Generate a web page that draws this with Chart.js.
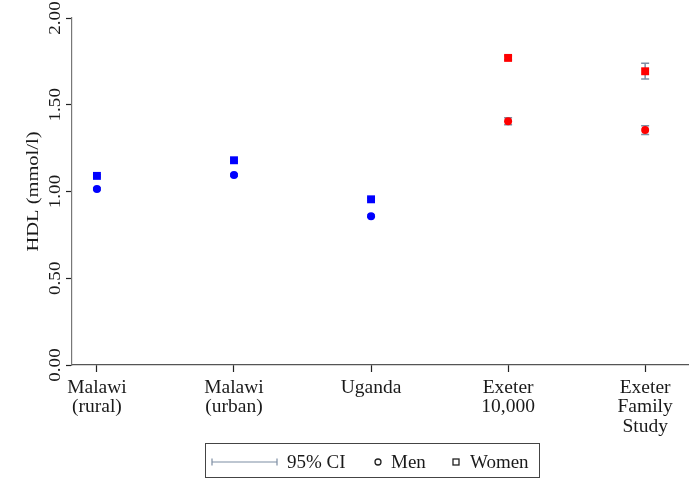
<!DOCTYPE html>
<html>
<head>
<meta charset="utf-8">
<script src="https://cdn.jsdelivr.net/npm/chart.js@4"></script>
<style>
html,body{margin:0;padding:0;background:#fff;}
canvas{display:block;}
</style>
</head>
<body>
<canvas id="c" width="689" height="502"></canvas>
<script>
const categories = [["Malawi","(rural)"],["Malawi","(urban)"],["Uganda"],["Exeter","10,000"],["Exeter","Family","Study"]];
const menValues   = [1.015, 1.095, 0.858, 1.405, 1.355];
const menLow      = [1.008, 1.088, 0.851, 1.385, 1.329];
const menHigh     = [1.022, 1.102, 0.865, 1.425, 1.379];
const womenValues = [1.090, 1.180, 0.955, 1.770, 1.693];
const womenLow    = [1.083, 1.173, 0.948, 1.758, 1.648];
const womenHigh   = [1.097, 1.187, 0.962, 1.782, 1.739];
const groupColors = ["#0000ff","#0000ff","#0000ff","#ff0000","#ff0000"];
const yTicks = [0, 0.5, 1.0, 1.5, 2.0];
const yTitle = "HDL (mmol/l)";
const legendLabels = ["95% CI","Men","Women"];

const FONT = "Liberation Serif";
const TXT = "#1a1a1a";
const CI_COLOR = "#7d8ea3";

const ciPlugin = {
  id: "ci",
  beforeDatasetsDraw(chart) {
    const ctx = chart.ctx, xs = chart.scales.x, ys = chart.scales.y;
    ctx.save();
    ctx.strokeStyle = CI_COLOR;
    ctx.lineWidth = 1.5;
    const drawCI = (i, lo, hi) => {
      const x = xs.getPixelForValue(i);
      const y1 = ys.getPixelForValue(lo), y2 = ys.getPixelForValue(hi);
      ctx.beginPath();
      ctx.moveTo(x, y1); ctx.lineTo(x, y2);
      ctx.moveTo(x - 4, y1); ctx.lineTo(x + 4, y1);
      ctx.moveTo(x - 4, y2); ctx.lineTo(x + 4, y2);
      ctx.stroke();
    };
    categories.forEach((c, i) => {
      drawCI(i, menLow[i], menHigh[i]);
      drawCI(i, womenLow[i], womenHigh[i]);
    });
    ctx.restore();
  },
  afterDraw(chart) {
    const ctx = chart.ctx, ys = chart.scales.y, area = chart.chartArea;
    ctx.save();
    ctx.fillStyle = TXT;
    // y tick labels (rotated)
    ctx.font = "17px '" + FONT + "'";
    yTicks.forEach(v => {
      const y = ys.getPixelForValue(v);
      ctx.save();
      ctx.translate(60, y);
      ctx.rotate(-Math.PI / 2);
      ctx.scale(1.12, 1);
      ctx.textAlign = "center";
      ctx.textBaseline = "alphabetic";
      ctx.fillText(v.toFixed(2), 0, 0);
      ctx.restore();
    });
    // y title
    ctx.font = "17.5px '" + FONT + "'";
    ctx.save();
    ctx.translate(38, (area.top + area.bottom) / 2);
    ctx.rotate(-Math.PI / 2);
    ctx.scale(1.17, 1);
    ctx.textAlign = "center";
    ctx.textBaseline = "alphabetic";
    ctx.fillText(yTitle, 0, 0);
    ctx.restore();

    // legend
    ctx.font = "19px '" + FONT + "'";
    const bx = 205, by = 443, bw = 334, bh = 34;
    ctx.strokeStyle = "#444";
    ctx.lineWidth = 1;
    ctx.strokeRect(bx + 0.5, by + 0.5, bw, bh);
    const ly = 462;
    ctx.strokeStyle = CI_COLOR;
    ctx.lineWidth = 1.2;
    ctx.beginPath();
    ctx.moveTo(212, ly); ctx.lineTo(277, ly);
    ctx.moveTo(212, ly - 3.5); ctx.lineTo(212, ly + 3.5);
    ctx.moveTo(277, ly - 3.5); ctx.lineTo(277, ly + 3.5);
    ctx.stroke();
    ctx.textAlign = "left";
    ctx.textBaseline = "alphabetic";
    ctx.fillStyle = TXT;
    ctx.fillText(legendLabels[0], 287, 468);
    ctx.strokeStyle = "#222";
    ctx.lineWidth = 1.3;
    ctx.beginPath();
    ctx.arc(378, 462, 3, 0, Math.PI * 2);
    ctx.stroke();
    ctx.fillText(legendLabels[1], 391, 468);
    ctx.strokeRect(453, 459, 6, 6);
    ctx.fillText(legendLabels[2], 470, 468);
    ctx.restore();
  }
};

new Chart(document.getElementById("c"), {
  type: "scatter",
  data: {
    datasets: [
      {
        label: "Men",
        data: menValues.map((v, i) => ({ x: i, y: v })),
        pointStyle: "circle",
        pointRadius: 4,
        pointBorderWidth: 0,
        pointBackgroundColor: groupColors,
        pointBorderColor: groupColors
      },
      {
        label: "Women",
        data: womenValues.map((v, i) => ({ x: i, y: v })),
        pointStyle: "rect",
        pointRadius: 5.6,
        pointBorderWidth: 0,
        pointBackgroundColor: groupColors,
        pointBorderColor: groupColors
      }
    ]
  },
  options: {
    responsive: false,
    animation: false,
    devicePixelRatio: 1,
    layout: { autoPadding: false, padding: { top: 18, left: 0, right: 0, bottom: 0 } },
    plugins: { legend: { display: false }, tooltip: { enabled: false } },
    scales: {
      x: {
        type: "linear",
        min: -0.182,
        max: 4.32,
        afterBuildTicks: s => { s.ticks = categories.map((c, i) => ({ value: i })); },
        afterFit: s => { s.height = 137; s.paddingLeft = 0; s.paddingRight = 0; },
        grid: { display: true, drawOnChartArea: false, drawTicks: true, tickLength: 7, tickColor: "#222", tickWidth: 1.2 },
        border: { display: true, color: "#555", width: 1.2 },
        ticks: {
          autoSkip: false,
          maxRotation: 0,
          minRotation: 0,
          padding: 6,
          color: TXT,
          font: { family: FONT, size: 19.5, lineHeight: 1.0 },
          callback: (v) => categories[v] || ""
        }
      },
      y: {
        min: 0,
        max: 2,
        afterBuildTicks: s => { s.ticks = yTicks.map(v => ({ value: v })); },
        afterFit: s => { s.width = 72; },
        grid: { display: true, drawOnChartArea: false, drawTicks: true, tickLength: 6, tickColor: "#222", tickWidth: 1.2 },
        border: { display: true, color: "#777", width: 1.2 },
        ticks: { display: false }
      }
    }
  },
  plugins: [ciPlugin]
});
</script>
</body>
</html>
